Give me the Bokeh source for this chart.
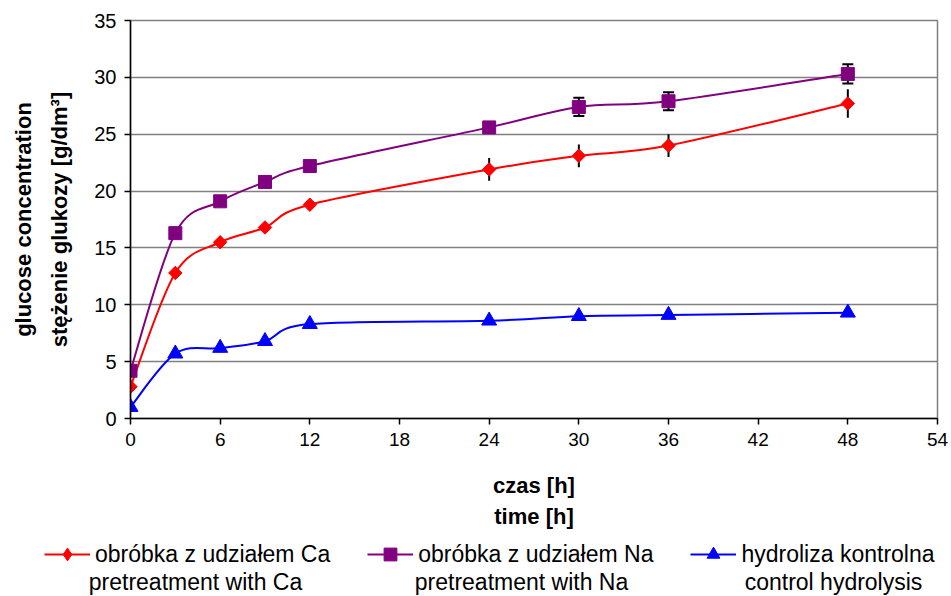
import numpy as np
from bokeh.plotting import figure
from bokeh.layouts import column
from bokeh.models import (ColumnDataSource, Whisker, TeeHead, Legend, LegendItem,
                          Title, Range1d, FixedTicker, Label)
from bokeh.embed import file_html
from bokeh.resources import INLINE

# ---- data ----
time_h = [0, 3, 6, 9, 12, 24, 30, 36, 48]
ca_vals = [2.8, 12.8, 15.5, 16.8, 18.8, 21.9, 23.1, 24.0, 27.7]
na_vals = [4.2, 16.3, 19.1, 20.8, 22.2, 25.6, 27.4, 27.9, 30.3]
ctrl_vals = [1.0, 5.7, 6.2, 6.8, 8.3, 8.6, 9.0, 9.1, 9.3]

ca_err_times = [24, 30, 36, 48]
ca_err = [1.0, 1.0, 1.0, 1.25]
na_err_times = [30, 36, 48]
na_err = [0.8, 0.8, 0.85]

x_ticks = [0, 6, 12, 18, 24, 30, 36, 42, 48, 54]
y_ticks = [0, 5, 10, 15, 20, 25, 30, 35]

legend_line1 = ["obróbka z udziałem Ca", "obróbka z udziałem Na", "hydroliza kontrolna"]
legend_line2 = ["pretreatment with Ca", "pretreatment with Na", "control hydrolysis"]

COL_CA = "#FF0000"
COL_NA = "#800080"
COL_CTRL = "#0000FF"
FONT = "Liberation Sans"


def bezier_source(xs, ys):
    """Excel-like smoothed line: cubic Bezier segments through the data points."""
    n = len(xs)
    d = dict(x0=[], y0=[], x1=[], y1=[], cx0=[], cy0=[], cx1=[], cy1=[])
    for i in range(n - 1):
        i0 = max(i - 1, 0)
        i3 = min(i + 2, n - 1)
        x0, y0 = xs[i0], ys[i0]
        x1, y1 = xs[i], ys[i]
        x2, y2 = xs[i + 1], ys[i + 1]
        x3, y3 = xs[i3], ys[i3]
        d["x0"].append(x1); d["y0"].append(y1)
        d["x1"].append(x2); d["y1"].append(y2)
        d["cx0"].append(x1 + (x2 - x0) / 6.0); d["cy0"].append(y1 + (y2 - y0) / 6.0)
        d["cx1"].append(x2 - (x3 - x1) / 6.0); d["cy1"].append(y2 - (y3 - y1) / 6.0)
    return ColumnDataSource(d)


# ================= main chart =================
p = figure(width=951, height=536, output_backend="svg", toolbar_location=None,
           x_range=Range1d(0, 54), y_range=Range1d(0, 35),
           min_border_left=130, min_border_right=14, min_border_top=20,
           min_border_bottom=118)
p.frame_align = False
p.background_fill_color = "white"
p.border_fill_color = "white"
p.outline_line_color = "#808080"
p.outline_line_width = 1.5

p.xgrid.visible = False
p.ygrid.grid_line_color = "#808080"
p.ygrid.grid_line_width = 1.5

p.xaxis.ticker = FixedTicker(ticks=x_ticks)
p.yaxis.ticker = FixedTicker(ticks=y_ticks)
for ax in (p.xaxis[0], p.yaxis[0]):
    ax.axis_line_color = "black"
    ax.axis_line_width = 1.5
    ax.major_tick_line_color = "black"
    ax.major_tick_line_width = 1.5
    ax.major_tick_out = 6
    ax.major_tick_in = 0
    ax.minor_tick_out = 0
    ax.minor_tick_in = 0
    ax.major_label_text_font = FONT
    ax.major_label_text_color = "black"
    ax.axis_label_text_font = FONT
    ax.axis_label_text_font_style = "bold"
    ax.axis_label_text_color = "black"
    ax.axis_label_text_font_size = "22px"

p.xaxis.major_label_text_font_size = "19px"
p.yaxis.major_label_text_font_size = "20px"
p.xaxis.major_label_standoff = 8
p.yaxis.major_label_standoff = 8
p.xaxis.axis_label = "czas [h]"
p.xaxis.axis_label_standoff = 24
p.yaxis.axis_label = "stężenie glukozy [g/dm³]"
p.yaxis.axis_label_standoff = 19

# second title lines
t_time = Title(text="time [h]", align="center", text_font=FONT, text_font_size="22px",
               text_font_style="bold", text_color="black", standoff=2)
p.add_layout(t_time, "below")
t_gluc = Title(text="glucose concentration", align="center", text_font=FONT,
               text_font_size="22px", text_font_style="bold", text_color="black",
               standoff=17)
p.add_layout(t_gluc, "left")

# error bars
ca_err_src = ColumnDataSource(dict(
    t=ca_err_times,
    lo=[ca_vals[time_h.index(t)] - e for t, e in zip(ca_err_times, ca_err)],
    hi=[ca_vals[time_h.index(t)] + e for t, e in zip(ca_err_times, ca_err)]))
na_err_src = ColumnDataSource(dict(
    t=na_err_times,
    lo=[na_vals[time_h.index(t)] - e for t, e in zip(na_err_times, na_err)],
    hi=[na_vals[time_h.index(t)] + e for t, e in zip(na_err_times, na_err)]))

w_ca = Whisker(source=ca_err_src, base="t", lower="lo", upper="hi",
               line_color="black", line_width=2, lower_head=None, upper_head=None)
w_na = Whisker(source=na_err_src, base="t", lower="lo", upper="hi",
               line_color="black", line_width=2,
               lower_head=TeeHead(size=11, line_color="black", line_width=2),
               upper_head=TeeHead(size=11, line_color="black", line_width=2))
p.add_layout(w_ca)
p.add_layout(w_na)

# smoothed lines
src_pts = ColumnDataSource(dict(t=time_h, ca=ca_vals, na=na_vals, ctrl=ctrl_vals))
bz = dict(x0="x0", y0="y0", x1="x1", y1="y1", cx0="cx0", cy0="cy0", cx1="cx1", cy1="cy1")
p.bezier(source=bezier_source(time_h, ctrl_vals), line_color=COL_CTRL, line_width=2, **bz)
p.bezier(source=bezier_source(time_h, ca_vals), line_color=COL_CA, line_width=2, **bz)
p.bezier(source=bezier_source(time_h, na_vals), line_color=COL_NA, line_width=2, **bz)

p.scatter("t", "ctrl", source=src_pts, marker="triangle", size=15,
          fill_color=COL_CTRL, line_color=COL_CTRL)
p.scatter("t", "ca", source=src_pts, marker="square", size=9.5, angle=np.pi / 4,
          fill_color=COL_CA, line_color=COL_CA)
p.scatter("t", "na", source=src_pts, marker="square", size=13,
          fill_color=COL_NA, line_color=COL_NA)

# ================= legend strip =================
H2 = 60
p2 = figure(width=951, height=H2, output_backend="svg", toolbar_location=None,
            x_range=Range1d(0, 951), y_range=Range1d(0, H2),
            min_border=0, min_border_left=0, min_border_right=0,
            min_border_top=0, min_border_bottom=0)
p2.frame_align = False
p2.axis.visible = False
p2.grid.visible = False
p2.outline_line_color = None
p2.background_fill_color = "white"
p2.border_fill_color = "white"

nan_src = ColumnDataSource(dict(x=[np.nan], y=[np.nan]))
styles = [(COL_CA, "diamond"), (COL_NA, "square"), (COL_CTRL, "triangle")]
items = []
for (col, mk), lab in zip(styles, legend_line1):
    lr = p2.line("x", "y", source=nan_src, line_color=col, line_width=2)
    mr = p2.scatter("x", "y", source=nan_src, marker=mk, size=13,
                    fill_color=col, line_color=col)
    items.append(LegendItem(label=lab, renderers=[lr, mr]))

legend = Legend(items=items, orientation="horizontal", location=(44, 26),
                border_line_color=None, background_fill_alpha=0,
                glyph_width=46, glyph_height=32, label_standoff=5, label_height=20,
                spacing=37, padding=0, margin=0, label_text_font=FONT,
                label_text_font_size="23px", label_text_color="black")
p2.add_layout(legend, "center")

line2_x = [195, 521, 833]
for xc, txt in zip(line2_x, legend_line2):
    p2.add_layout(Label(x=xc, y=14.5, text=txt, text_align="center",
                        text_baseline="alphabetic", text_font=FONT,
                        text_font_size="23px", text_color="black"))

layout = column(p, p2, spacing=0)
open("out.html", "w").write(file_html(layout, INLINE))
